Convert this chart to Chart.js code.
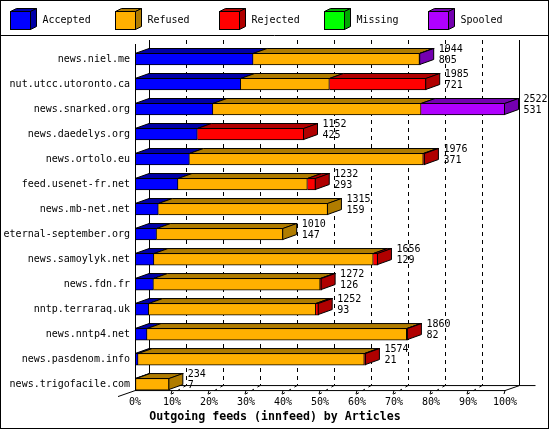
<!DOCTYPE html>
<html><head><meta charset="utf-8">
<script src="https://cdn.jsdelivr.net/npm/chart.js@4.4.1/dist/chart.umd.min.js"></script>
<style>html,body{margin:0;padding:0;background:#fff}canvas{display:block}</style>
</head><body>
<canvas id="c" width="550" height="430"></canvas>
<script>
// ---- data ----
const categories = ['news.niel.me','nut.utcc.utoronto.ca','news.snarked.org','news.daedelys.org','news.ortolo.eu','feed.usenet-fr.net','news.mb-net.net','eternal-september.org','news.samoylyk.net','news.fdn.fr','nntp.terraraq.uk','news.nntp4.net','news.pasdenom.info','news.trigofacile.com'];
const accepted = [805, 721, 531, 425, 371, 293, 159, 147, 129, 126, 93, 82, 21, 7];
const refused  = [1134, 604, 1419, 0, 1594, 882, 1156, 863, 1495, 1136, 1139, 1770, 1542, 227];
const rejected = [0, 660, 0, 727, 11, 57, 0, 0, 32, 10, 20, 8, 11, 0];
const missing  = [0, 0, 0, 0, 0, 0, 0, 0, 0, 0, 0, 0, 0, 0];
const spooled  = [5, 0, 572, 0, 0, 0, 0, 0, 0, 0, 0, 0, 0, 0];
const seriesNames = ['Accepted','Refused','Rejected','Missing','Spooled'];
const tickPercents = [0,10,20,30,40,50,60,70,80,90,100];
const axisTitle = 'Outgoing feeds (innfeed) by Articles';

const seriesData = [accepted, refused, rejected, missing, spooled];
const seriesColors = ['#0000FF','#FFB000','#FF0000','#00FF00','#B000FF'];
const shadeColors  = ['#0000A8','#B07C00','#B00000','#00A800','#7400B0'];
const totals = categories.map((_, i) => seriesData.reduce((s, a) => s + a[i], 0));
const maxTotal = Math.max(...totals);

const FONT = "'DejaVu Sans Mono','Liberation Mono',monospace";
const DX = 14, DY = 5;

function poly(ctx, pts, fill) {
  ctx.beginPath();
  ctx.moveTo(pts[0][0], pts[0][1]);
  for (let i = 1; i < pts.length; i++) ctx.lineTo(pts[i][0], pts[i][1]);
  ctx.closePath();
  ctx.fillStyle = fill; ctx.fill();
  ctx.stroke();
}
function line(ctx, x1, y1, x2, y2) {
  ctx.beginPath(); ctx.moveTo(x1, y1); ctx.lineTo(x2, y2); ctx.stroke();
}

const plugin3d = {
  id: 'innreport3d',
  beforeDraw(chart) {
    const ctx = chart.ctx;
    ctx.save(); ctx.fillStyle = '#fff'; ctx.fillRect(0, 0, chart.width, chart.height); ctx.restore();
  },
  beforeDatasetsDraw(chart) {
    const {ctx, chartArea, scales: {x}} = chart;
    const meta = chart.getDatasetMeta(0);
    const last = meta.data[meta.data.length - 1];
    const frontBottom = last.y + last.height / 2;
    const backBottom = frontBottom - DY;
    const topY = chartArea.top - 6.5;
    const f0 = x.getPixelForValue(0), f100 = x.getPixelForValue(maxTotal);
    ctx.save();
    ctx.strokeStyle = '#000'; ctx.lineWidth = 1;
    // dashed back grid
    ctx.setLineDash([4, 4]);
    for (let k = 1; k < tickPercents.length - 1; k++) {
      const px = Math.round(x.getPixelForValue(maxTotal * tickPercents[k] / 100) + DX) + 0.5;
      line(ctx, px, topY, px, backBottom);
    }
    // floor grid diagonals
    ctx.setLineDash([3, 4]);
    for (let k = 1; k < tickPercents.length - 1; k++) {
      const fk = x.getPixelForValue(maxTotal * tickPercents[k] / 100);
      line(ctx, fk + DX, backBottom + 0.5, fk - 3, frontBottom + 5.5);
    }
    ctx.setLineDash([]);
    // back verticals
    const bl = Math.round(f0 + DX) + 0.5, br = Math.round(f100 + DX) + 0.5;
    line(ctx, bl, topY, bl, backBottom);
    line(ctx, br, topY, br, backBottom);
    // back floor line
    line(ctx, bl, backBottom + 0.5, br + 16, backBottom + 0.5);
    // front floor line
    line(ctx, f0, frontBottom + 0.5, f100, frontBottom + 0.5);
    // floor edges
    line(ctx, f100, frontBottom + 0.5, br, backBottom + 0.5);
    line(ctx, bl, backBottom + 0.5, f0 - 17, frontBottom + 6.5);
    // front tick marks
    for (let k = 1; k < tickPercents.length; k++) {
      const fk = x.getPixelForValue(maxTotal * tickPercents[k] / 100);
      line(ctx, fk, frontBottom + 0.5, fk - 1, frontBottom + 4);
    }
    ctx.restore();
  },
  afterDatasetsDraw(chart) {
    const {ctx, chartArea, scales: {x}} = chart;
    ctx.save();
    ctx.strokeStyle = '#000'; ctx.lineWidth = 1; ctx.lineJoin = 'miter';
    const nRows = categories.length;
    for (let i = 0; i < nRows; i++) {
      let lastD = -1;
      for (let d = 0; d < seriesData.length; d++) {
        if (seriesData[d][i] <= 0) continue;
        const bar = chart.getDatasetMeta(d).data[i];
        const p = bar.getProps(['x', 'y', 'base', 'height'], true);
        const l = Math.min(p.x, p.base), r = Math.max(p.x, p.base);
        const t = p.y - p.height / 2 + 0.5;
        poly(ctx, [[l, t], [l + DX, t - DY], [r + DX, t - DY], [r, t]], shadeColors[d]);
        lastD = d;
      }
      if (lastD >= 0) {
        const bar = chart.getDatasetMeta(lastD).data[i];
        const p = bar.getProps(['x', 'y', 'base', 'height'], true);
        const r = Math.max(p.x, p.base) - 0.5;
        const t = p.y - p.height / 2 + 0.5, b = p.y + p.height / 2 - 0.5;
        poly(ctx, [[r, t], [r + DX, t - DY], [r + DX, b - DY], [r, b]], shadeColors[lastD]);
      }
      // value labels: total offered and accepted
      const bar0 = chart.getDatasetMeta(0).data[i];
      const xEnd = x.getPixelForValue(totals[i]);
      ctx.fillStyle = '#000';
      ctx.font = '10px ' + FONT;
      ctx.textAlign = 'left'; ctx.textBaseline = 'middle';
      ctx.fillText(String(totals[i]), xEnd + DX + 4.5, bar0.y - 9.5);
      ctx.fillText(String(accepted[i]), xEnd + DX + 4.5, bar0.y + 1.5);
    }
    // front left axis
    const meta = chart.getDatasetMeta(0);
    const lastBar = meta.data[meta.data.length - 1];
    const f0 = Math.round(x.getPixelForValue(0)) + 0.5;
    line(ctx, f0, chartArea.top - 2.5, f0, lastBar.y + lastBar.height / 2 + 0.5);
    ctx.restore();
  },
  afterDraw(chart) {
    const ctx = chart.ctx;
    ctx.save();
    ctx.strokeStyle = '#000'; ctx.lineWidth = 1;
    // legend
    for (let i = 0; i < seriesNames.length; i++) {
      const bx = Math.round(10 + i * 104.6) + 0.5, by = 11.5, w = 20, h = 18, d = 6, e = 3;
      ctx.fillStyle = seriesColors[i];
      ctx.fillRect(bx, by, w, h); ctx.strokeRect(bx, by, w, h);
      poly(ctx, [[bx, by], [bx + d, by - e], [bx + w + d, by - e], [bx + w, by]], shadeColors[i]);
      poly(ctx, [[bx + w, by], [bx + w + d, by - e], [bx + w + d, by + h - e], [bx + w, by + h]], shadeColors[i]);
      ctx.fillStyle = '#000';
      ctx.font = '10px ' + FONT;
      ctx.textAlign = 'left'; ctx.textBaseline = 'middle';
      ctx.fillText(seriesNames[i], bx + 32, 20.5);
    }
    line(ctx, 0, 35.5, 549, 35.5);
    ctx.strokeRect(0.5, 0.5, 548, 428);
    ctx.restore();
  }
};

new Chart(document.getElementById('c'), {
  type: 'bar',
  data: {
    labels: categories,
    datasets: seriesNames.map((name, d) => ({
      label: name,
      data: seriesData[d],
      backgroundColor: seriesColors[d],
      borderColor: '#000',
      borderWidth: 1,
      borderSkipped: 'start',
      barThickness: 12
    }))
  },
  options: {
    indexAxis: 'y',
    responsive: false,
    animation: false,
    events: [],
    layout: {padding: {top: 46.5, left: 0, right: 0, bottom: 0}},
    plugins: {
      legend: {display: false},
      tooltip: {enabled: false},
      title: {
        display: true, text: axisTitle, position: 'bottom', color: '#000',
        font: {family: FONT, size: 11.6, weight: 'bold'},
        padding: {top: 0, bottom: 6}
      }
    },
    scales: {
      x: {
        type: 'linear', stacked: true, min: 0, max: maxTotal,
        afterBuildTicks: s => { s.ticks = tickPercents.map(p => ({value: maxTotal * p / 100})); },
        ticks: {
          callback: v => Math.round(v / maxTotal * 100) + '%',
          font: {family: FONT, size: 10}, color: '#000', padding: 0,
          maxRotation: 0, autoSkip: false
        },
        grid: {display: false, drawTicks: false},
        border: {display: false},
        afterFit: s => { s.height = 13.5; }
      },
      y: {
        stacked: true,
        ticks: {font: {family: FONT, size: 10}, color: '#000', padding: 5, autoSkip: false},
        grid: {display: false, drawTicks: false},
        border: {display: false},
        afterFit: s => { s.width = 135; }
      },
      yRight: {
        type: 'linear', position: 'right', display: true,
        ticks: {display: false},
        grid: {display: false, drawTicks: false},
        border: {display: false},
        afterFit: s => { s.width = 45; }
      }
    }
  },
  plugins: [plugin3d]
});
</script>
</body></html>
